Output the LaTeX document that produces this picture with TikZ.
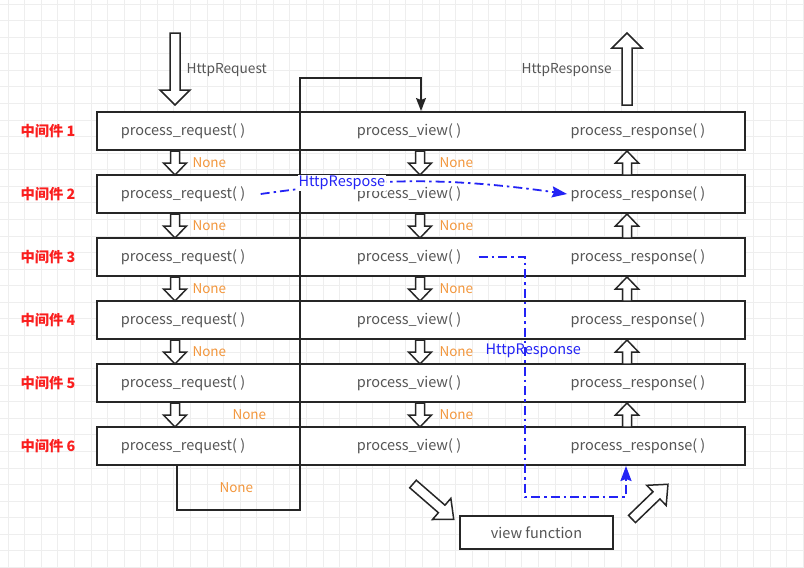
\documentclass[tikz,border=0pt]{standalone}
\usepackage{fontspec}
\newfontfamily\cjk{Noto Sans CJK SC}
\usetikzlibrary{arrows, arrows.meta, positioning}
\definecolor{nonecol}{RGB}{242,150,60}
\definecolor{midred}{RGB}{250,30,30}
\definecolor{respblue}{RGB}{35,35,245}
\definecolor{txtgray}{RGB}{85,85,85}
\tikzstyle{rowbox} = [draw=black!85, line width=1.5pt, fill=white, minimum width=648pt, minimum height=38pt, inner sep=0pt]
\tikzstyle{functext} = [text=txtgray, font=\cjk\fontsize{14.5}{16}\selectfont]
\tikzstyle{nonetext} = [text=nonecol, anchor=west, font=\cjk\fontsize{13.5}{15}\selectfont]
\tikzstyle{midtext} = [text=midred, anchor=west, font=\cjk\bfseries\fontsize{14.3}{16}\selectfont]
\tikzstyle{bluetext} = [text=respblue, font=\cjk\fontsize{14.5}{16}\selectfont]
\tikzstyle{blueline} = [respblue, line width=1.8pt, dash pattern=on 9pt off 4pt on 2.5pt off 4pt, -{Stealth[length=15pt, width=11pt, inset=2pt]}]
\tikzset{pics/hollow/.style args={#1/#2/#3/#4}{code={
  \draw[draw=black!85, line width=1.5pt, fill=white, line join=miter]
    (0,-#3) -- (#1-#2,-#3) -- (#1-#2,-#4) -- (#1,0) -- (#1-#2,#4) -- (#1-#2,#3) -- (0,#3) -- cycle;}}}

\begin{document}
\begin{tikzpicture}[x=1pt, y=-1pt]
   \useasboundingbox (0,0) rectangle (804,568);

   % Draw the faint background grid
   \foreach \gx in {0,...,48}
     \draw[gray!13, line width=0.6pt] (8+\gx*16.57,0) -- (8+\gx*16.57,568);
   \foreach \gy in {0,...,34}
     \draw[gray!13, line width=0.6pt] (0,3.9+\gy*16.57) -- (804,3.9+\gy*16.57);

   % Draw one box per middleware with its three methods
   \foreach \i in {1,...,6} {
     \pgfmathsetmacro\rowy{131+63*(\i-1)}
     \node[rowbox] (r\i) at (421,\rowy) {};
     \node[functext] (req\i) at (183,\rowy) {process\_request( )};
     \node[functext] (view\i) at (409,\rowy) {process\_view( )};
     \node[functext] (resp\i) at (638,\rowy) {process\_response( )};
     \node[midtext] (mw\i) at (17,\rowy) {中间件 \i};
   }

   % Hollow arrows between the boxes
   \foreach \i in {1,...,5} {
     \pgfmathsetmacro\gapy{151+63*(\i-1)}
     \pic[rotate=-90] at (175,\gapy) {hollow=24/12/4.5/11.5};
     \pic[rotate=-90] at (420,\gapy) {hollow=24/12/4.5/11.5};
     \pic[rotate=90] at (627,\gapy+24) {hollow=24/12/4.5/11.5};
   }

   % None labels
   \foreach \i in {1,...,4}
     \node[nonetext] (nreq\i) at (189,{163+63*(\i-1)}) {None};
   \node[nonetext] (nreq5) at (229,415) {None};
   \foreach \i in {1,...,5}
     \node[nonetext] (nview\i) at (436,{163+63*(\i-1)}) {None};
   \node[nonetext] (nbottom) at (216,488) {None};

   % Request in, response out
   \pic[rotate=-90] at (175,33) {hollow=72/15/5/15};
   \pic[rotate=90] at (627,105) {hollow=72/15/5/15};
   \node[functext, anchor=west, font=\cjk\fontsize{13.7}{15}\selectfont] (reqlabel) at (183,70) {HttpRequest};
   \node[functext, anchor=west, font=\cjk\fontsize{13.7}{15}\selectfont] (resplabel) at (518,70) {HttpResponse};

   % Loop from the last request back to the first view
   \coordinate (loopstart) at (177,464);
   \coordinate (loopend) at (421,111);
   \draw[black!85, line width=1.5pt, -{Stealth[length=13pt, width=10pt, inset=2pt]}] (loopstart) -- (177,510) -- (300,510) -- (300,78) -- (421,78) -- (loopend);

   % View function and the arrows to and from it
   \node[draw=black!85, line width=1.5pt, fill=white, minimum width=153pt, minimum height=33pt, functext] (viewfunc) at (536.5,532.5) {view function};
   \pic[rotate=-41] at (413,484) {hollow=54/16/5/14};
   \pic[rotate=44] at (632,519) {hollow=50/16/5/14};

   % Short cuts that answer early
   \draw[blueline] ([xshift=12pt]req2.east) to[out=8, in=172]
     node[pos=0.25, yshift=2pt, fill=white, inner sep=1pt, bluetext] (shortlabel) {HttpRespose} (resp2.west);
   \coordinate (bluecorner) at (525,497);
   \coordinate (respin) at (626,466);
   \draw[blueline] ([xshift=14pt]view3.east) -| (bluecorner) -| (respin);
   \node[anchor=west, bluetext] (viewlabel) at (482,351) {HttpResponse};

 \end{tikzpicture}
\end{document}
